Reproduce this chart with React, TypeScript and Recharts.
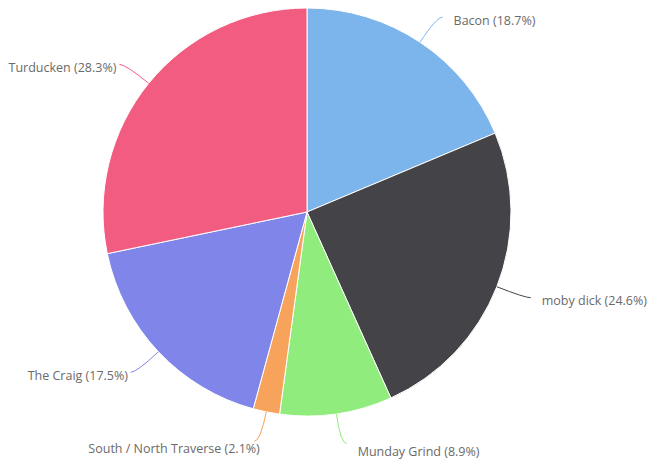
import React from 'react';
import {PieChart, Pie, Cell} from 'recharts';

const names = [
  'Bacon',
  'moby dick',
  'Munday Grind',
  'South / North Traverse',
  'The Craig',
  'Turducken',
];
const shares = [18.7, 24.6, 8.9, 2.1, 17.5, 28.3];
const colors = ['#7cb5ec', '#434348', '#90ed7d', '#f7a35c', '#8085e9', '#f15c80'];

const data = names.map((name, i) => ({name, value: shares[i]}));

const RADIAN = Math.PI / 180;

const renderLabel = (props: any) => {
  const {cx, cy, midAngle, outerRadius, name, value, index} = props;
  const dx = Math.cos(-midAngle * RADIAN);
  const dy = Math.sin(-midAngle * RADIAN);
  const right = dx >= 0;
  const sx = cx + outerRadius * dx;
  const sy = cy + outerRadius * dy;
  const ex = cx + (outerRadius + 30) * dx;
  const ey = cy + (outerRadius + 30) * dy;
  const tx = ex + (right ? 6 : -6);
  // bottom labels sit a bit lower and closer to their connector
  const low = Math.max(0, dy);
  const textX = right ? tx + 11 : tx - 3 + 10 * Math.pow(low, 8);
  const textY = ey + 3 + 5 * Math.pow(low, 6);
  return (
    <g key={'lbl-' + index}>
      <path
        d={`M${sx},${sy} Q${ex},${ey} ${tx},${ey}`}
        stroke={colors[index]}
        strokeWidth={1}
        fill="none"
      />
      <text
        x={textX}
        y={textY}
        textAnchor={right ? 'start' : 'end'}
        dominantBaseline="central"
        fill="#6a6a6a"
        fontSize={12.5}
        fontFamily="'Open Sans', 'DejaVu Sans', sans-serif"
      >
        {`${name} (${value.toFixed(1)}%)`}
      </text>
    </g>
  );
};

const App = () => {
  return (
    <div style={{position: 'absolute', left: 0, top: 0, background: '#fff'}}>
      <PieChart
        width={652}
        height={460}
        margin={{top: 0, right: 0, bottom: 0, left: 0}}
      >
        <Pie
          data={data}
          dataKey="value"
          nameKey="name"
          cx={307}
          cy={212}
          outerRadius={204}
          startAngle={90}
          endAngle={-270}
          stroke="#fff"
          strokeWidth={1}
          label={renderLabel}
          labelLine={false}
          isAnimationActive={false}
        >
          {data.map((d, i) => (
            <Cell key={d.name} fill={colors[i]} />
          ))}
        </Pie>
      </PieChart>
    </div>
  );
};

export default App;
